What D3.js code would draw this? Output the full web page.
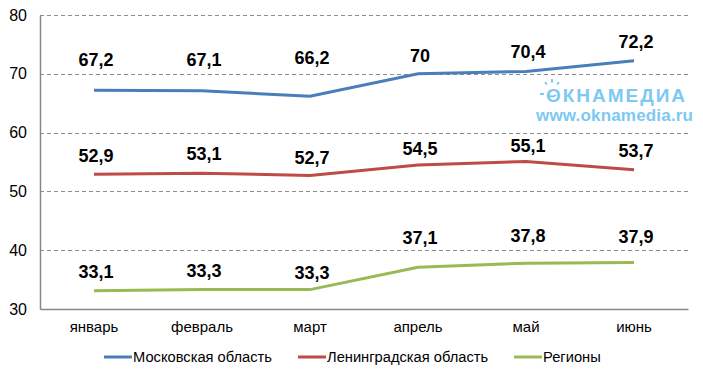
<!DOCTYPE html>
<html>
<head>
<meta charset="utf-8">
<script src="https://cdn.jsdelivr.net/npm/d3@7"></script>
<style>
  body { margin: 0; background: #fff; }
  text { font-family: Arial, "Liberation Sans", sans-serif; }
</style>
</head>
<body>
<div id="chart"></div>
<script>
// podaci
const months = ["январь", "февраль", "март", "апрель", "май", "июнь"];
const seriesNames = ["Московская область", "Ленинградская область", "Регионы"];
const moskva = [67.2, 67.1, 66.2, 70, 70.4, 72.2];
const lenobl = [52.9, 53.1, 52.7, 54.5, 55.1, 53.7];
const regiony = [33.1, 33.3, 33.3, 37.1, 37.8, 37.9];
const yTicks = [30, 40, 50, 60, 70, 80];

const W = 703, H = 378;
const margin = { top: 15, right: 15, bottom: 69, left: 40 };
const width = W - margin.left - margin.right;
const height = H - margin.top - margin.bottom;

const colors = ["#4A7EBB", "#BE4B48", "#98B954"];
const series = [moskva, lenobl, regiony];

// pomaci natpisa iznad linije (px), rucno namjesteni kao na slici
const labelDy = [
    [-24, -25, -32, -12, -13, -13],
    [-12, -13, -12, -10, -9, -13],
    [-13, -13, -11, -23, -21, -20]
];

const svg = d3.select("#chart").append("svg")
    .attr("width", W)
    .attr("height", H);

const g = svg.append("g")
    .attr("transform", "translate(" + margin.left + "," + margin.top + ")");

const x = d3.scaleBand()
    .domain(months)
    .range([0, width]);

const y = d3.scaleLinear()
    .domain([30, 80])
    .range([height, 0]);

// mreza
g.selectAll(".grid")
    .data(yTicks.filter(t => t > 30))
    .enter().append("line")
    .attr("x1", 0)
    .attr("x2", width)
    .attr("y1", d => Math.round(y(d)) + 0.5)
    .attr("y2", d => Math.round(y(d)) + 0.5)
    .attr("stroke", "#8c8c8c")
    .attr("stroke-dasharray", "4,3");

// osi
g.append("g")
    .attr("transform", "translate(0," + height + ")")
    .call(d3.axisBottom(x).tickSize(0).tickPadding(12))
    .call(a => a.select(".domain").attr("stroke", "#868686"))
    .selectAll("text")
    .attr("font-size", "15px")
    .attr("fill", "#000");

g.append("g")
    .call(d3.axisLeft(y).tickValues(yTicks).tickSize(0).tickPadding(13))
    .call(a => a.select(".domain").attr("stroke", "#868686"))
    .selectAll("text")
    .attr("font-size", "16px")
    .attr("fill", "#000");

g.selectAll(".domain").attr("stroke-width", 1.5);

// linije
const line = d3.line()
    .x((d, i) => x(months[i]) + x.bandwidth() / 2)
    .y(d => y(d));

series.forEach((s, k) => {
    g.append("path")
        .datum(s)
        .attr("fill", "none")
        .attr("stroke", colors[k])
        .attr("stroke-width", 3)
        .attr("d", line);

    g.selectAll(".lbl" + k)
        .data(s)
        .enter().append("text")
        .attr("x", (d, i) => x(months[i]) + x.bandwidth() / 2 + 2)
        .attr("y", (d, i) => y(d) + labelDy[k][i])
        .attr("text-anchor", "middle")
        .attr("font-size", "18px")
        .attr("font-weight", "bold")
        .attr("fill", "#000")
        .text(d => String(d).replace(".", ","));
});

// vodeni zig
const wmColor = "#7EC8F4";
const wm = svg.append("g").attr("fill", wmColor);
wm.append("text")
    .attr("x", 546)
    .attr("y", 102)
    .attr("font-size", "19px")
    .attr("font-weight", "bold")
    .attr("textLength", 139)
    .text("ОКНАМЕДИА");
[[540, 94, 544, 94], [552, 79, 552, 82.5], [545, 82, 547, 84.5], [559, 82, 557, 84.5]].forEach(r => {
    wm.append("line")
        .attr("x1", r[0]).attr("y1", r[1]).attr("x2", r[2]).attr("y2", r[3])
        .attr("stroke", wmColor).attr("stroke-width", 2);
});
wm.append("path")
    .attr("d", "M548,95 Q552,98 556,95")
    .attr("fill", "none")
    .attr("stroke", wmColor)
    .attr("stroke-width", 2);
wm.append("text")
    .attr("x", 536)
    .attr("y", 121)
    .attr("font-size", "17px")
    .attr("font-weight", "bold")
    .attr("textLength", 157)
    .text("www.oknamedia.ru");

// legenda
const legX = [104, 298, 514];
const leg = svg.selectAll(".legend")
    .data(seriesNames)
    .enter().append("g")
    .attr("transform", (d, i) => "translate(" + legX[i] + ",357)");

leg.append("line")
    .attr("x1", 0).attr("x2", 28)
    .attr("stroke", (d, i) => colors[i])
    .attr("stroke-width", 3);

leg.append("text")
    .attr("x", 29)
    .attr("y", 5)
    .attr("font-size", "14.7px")
    .attr("fill", "#000")
    .text(d => d);
</script>
</body>
</html>
